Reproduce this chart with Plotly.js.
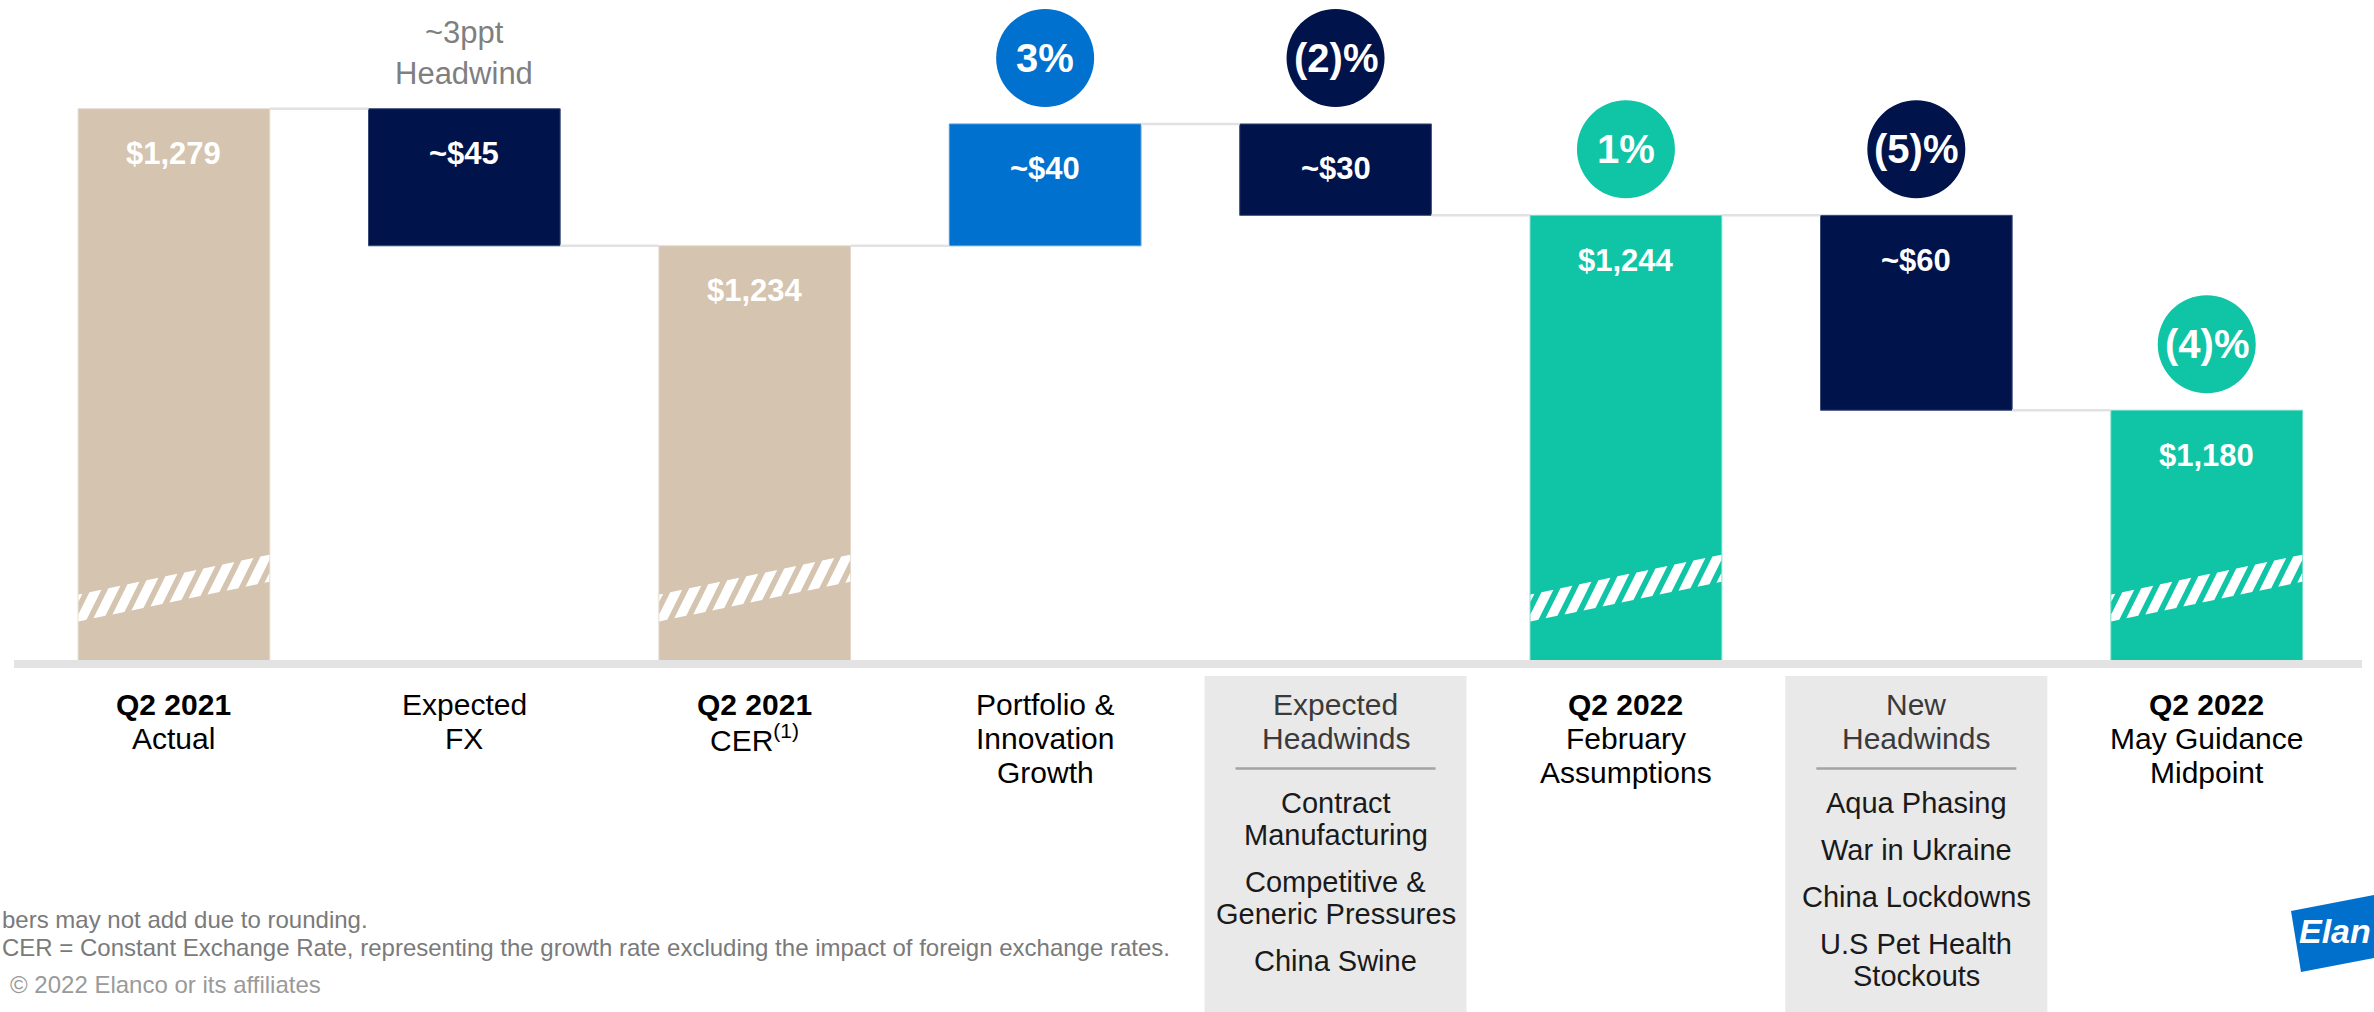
<!DOCTYPE html>
<html>
<head>
<meta charset="utf-8">
<script src="https://cdn.plot.ly/plotly-3.0.1.min.js"></script>
<style>html,body{margin:0;padding:0;background:#fff;overflow:hidden}#chart{width:2374px;height:1012px}</style>
</head>
<body>
<div id="chart"></div>
<script>
// ---------------- DATA ----------------
const categories = ['Q2 2021 Actual', 'Expected FX', 'Q2 2021 CER', 'Portfolio & Innovation Growth',
  'Expected Headwinds', 'Q2 2022 February Assumptions', 'New Headwinds', 'Q2 2022 May Guidance Midpoint'];
const measures = ['total', 'delta', 'total', 'delta', 'delta', 'total', 'delta', 'total'];
const values = [1279, -45, 1234, 40, -30, 1244, -64, 1180];
const valueLabels = ['$1,279', '~$45', '$1,234', '~$40', '~$30', '$1,244', '~$60', '$1,180'];
const pctLabels = ['', '', '', '3%', '(2)%', '1%', '(5)%', '(4)%'];
const labelLines = [
  ['<b>Q2 2021</b>', 'Actual'],
  ['Expected', 'FX'],
  ['<b>Q2 2021</b>', 'CER<sup>(1)</sup>'],
  ['Portfolio &', 'Innovation', 'Growth'],
  ['Expected', 'Headwinds'],
  ['<b>Q2 2022</b>', 'February', 'Assumptions'],
  ['New', 'Headwinds'],
  ['<b>Q2 2022</b>', 'May Guidance', 'Midpoint']
];
const expectedHeadwinds = [['Contract', 'Manufacturing'], ['Competitive &', 'Generic Pressures'], ['China Swine']];
const newHeadwinds = [['Aqua Phasing'], ['War in Ukraine'], ['China Lockdowns'], ['U.S Pet Health', 'Stockouts']];
const fxNote = ['~3ppt', 'Headwind'];
const footnotes = ['bers may not add due to rounding.',
  'CER = Constant Exchange Rate, representing the growth rate excluding the impact of foreign exchange rates.',
  '\u00A9 2022 Elanco or its affiliates'];
const logoText = 'Elan';

// ---------------- STYLE ----------------
const W = 2374, H = 1012, BASE_PX = 660;
const FONT = 'Liberation Sans, Arial, sans-serif';
const TAN = '#D5C4AF', NAVY = '#00134A', BLUE = '#0071CE', TEAL = '#10C4A6';
const barColors = [TAN, NAVY, TAN, BLUE, NAVY, TEAL, NAVY, TEAL];
const edgeColors = ['#E4D9CC', '#3A4A78', '#E4D9CC', '#4E9BE0', '#3A4A78', '#6FDCC8', '#3A4A78', '#6FDCC8'];
const yMin = 1098, yMax = 1314.7;
const BAR_W = 0.66;
const boxCats = {4: expectedHeadwinds, 6: newHeadwinds};

// ---------------- COMPUTE BARS ----------------
let running = 0;
const base = [], height = [], tops = [], levels = [];
values.forEach((v, i) => {
  if (measures[i] === 'total') {
    base.push(0); height.push(v); tops.push(v); running = v;
  } else {
    const s = running, e = running + v;
    base.push(Math.min(s, e)); height.push(Math.abs(v)); tops.push(Math.max(s, e)); running = e;
  }
  levels.push(running);
});

const trace = {
  type: 'bar', x: categories.map((c, i) => i), y: height, base: base, width: BAR_W,
  marker: {color: barColors, line: {color: edgeColors, width: 1}},
  hoverinfo: 'skip', showlegend: false, name: 'Revenue ($M)',
  customdata: categories
};

const shapes = [], annotations = [];
const pyOff = py => -(py - BASE_PX); // page pixel y -> offset relative to baseline (up positive)

// baseline band
shapes.push({type: 'rect', xref: 'paper', x0: 14 / W, x1: 2362 / W, yref: 'paper', ysizemode: 'pixel', yanchor: 0,
  y0: 0, y1: -8, fillcolor: '#E3E3E3', line: {width: 0}, layer: 'above'});

// connectors
for (let i = 0; i < values.length - 1; i++) {
  shapes.push({type: 'line', xref: 'x', yref: 'y', x0: i + BAR_W / 2, x1: i + 1 - BAR_W / 2,
    y0: levels[i], y1: levels[i], line: {color: '#E2E2E2', width: 2.5}});
}

// hatch (axis break) marks on totals
function clip(poly, xmin, xmax) {
  function clipEdge(pts, inside, inter) {
    const out = [];
    for (let k = 0; k < pts.length; k++) {
      const a = pts[k], b = pts[(k + 1) % pts.length];
      const ia = inside(a), ib = inside(b);
      if (ia) out.push(a);
      if (ia !== ib) out.push(inter(a, b));
    }
    return out;
  }
  const ix = xv => (a, b) => { const t = (xv - a[0]) / (b[0] - a[0]); return [xv, a[1] + t * (b[1] - a[1])]; };
  let p = clipEdge(poly, q => q[0] >= xmin, ix(xmin));
  if (p.length) p = clipEdge(p, q => q[0] <= xmax, ix(xmax));
  return p;
}
const halfPx = 95.5, lowY0 = 38.5, slope = 40 / 192, bandH = 27, slant = 15, stripeW = 12, period = 19;
const lowEdge = x => lowY0 + (x + halfPx) * slope;
measures.forEach((m, i) => {
  if (m !== 'total') return;
  for (let xs = -halfPx - slant - stripeW + 4; xs < halfPx; xs += period) {
    const poly = [[xs, lowEdge(xs)], [xs + stripeW, lowEdge(xs + stripeW)],
      [xs + stripeW + slant, lowEdge(xs + stripeW + slant) + bandH], [xs + slant, lowEdge(xs + slant) + bandH]];
    const c = clip(poly, -halfPx, halfPx);
    if (c.length < 3) continue;
    const path = 'M' + c.map(q => q[0].toFixed(2) + ',' + q[1].toFixed(2)).join('L') + 'Z';
    shapes.push({type: 'path', xref: 'x', yref: 'y', xsizemode: 'pixel', ysizemode: 'pixel',
      xanchor: i, yanchor: yMin, path: path, fillcolor: '#FFFFFF', line: {width: 0}});
  }
});

// percent circles + labels
pctLabels.forEach((t, i) => {
  if (!t) return;
  shapes.push({type: 'circle', xref: 'x', yref: 'y', xsizemode: 'pixel', ysizemode: 'pixel',
    xanchor: i, yanchor: tops[i], x0: -49, x1: 49, y0: 17, y1: 115, fillcolor: barColors[i], line: {width: 0}});
  annotations.push({x: i, y: tops[i], xref: 'x', yref: 'y', yshift: 66, yanchor: 'middle', showarrow: false,
    text: t, font: {family: FONT, size: 40, color: '#FFFFFF', weight: 'bold'}});
});

// value labels inside bars
valueLabels.forEach((t, i) => {
  annotations.push({x: i, y: tops[i], xref: 'x', yref: 'y', yshift: -45, yanchor: 'middle', showarrow: false,
    text: t, font: {family: FONT, size: 31, color: '#FFFFFF', weight: 'bold'}});
});

// category labels
labelLines.forEach((lines, i) => {
  const inBox = boxCats[i] !== undefined;
  lines.forEach((ln, k) => {
    annotations.push({x: i, xref: 'x', y: 0, yref: 'paper', yshift: pyOff(704 + k * 34), yanchor: 'middle',
      showarrow: false, text: ln, font: {family: FONT, size: 30, color: inBox ? '#3A3A3A' : '#000000'}});
  });
});

// headwind boxes
Object.keys(boxCats).forEach(key => {
  const i = +key;
  shapes.push({type: 'rect', xref: 'x', xsizemode: 'pixel', xanchor: i, x0: -131, x1: 131,
    yref: 'paper', ysizemode: 'pixel', yanchor: 0, y0: pyOff(676), y1: pyOff(1030),
    fillcolor: '#E9E9E9', line: {width: 0}, layer: 'below'});
  shapes.push({type: 'line', xref: 'x', xsizemode: 'pixel', xanchor: i, x0: -100, x1: 100,
    yref: 'paper', ysizemode: 'pixel', yanchor: 0, y0: pyOff(768.5), y1: pyOff(768.5),
    line: {color: '#A3A3A3', width: 2.5}});
  let y = 803;
  boxCats[key].forEach(item => {
    item.forEach(ln => {
      annotations.push({x: i, xref: 'x', y: 0, yref: 'paper', yshift: pyOff(y), yanchor: 'middle',
        showarrow: false, text: ln, font: {family: FONT, size: 29, color: '#1A1A1A'}});
      y += 32;
    });
    y += 15;
  });
});

// FX note above bar 2
fxNote.forEach((ln, k) => {
  annotations.push({x: 1, xref: 'x', y: 1, yref: 'paper', yshift: -(32 + k * 41), yanchor: 'middle',
    showarrow: false, text: ln, font: {family: FONT, size: 31, color: '#7F7F7F'}});
});

// footnotes
const footY = [919, 947, 984.5], footX = [0, 0, 8], footC = ['#7A7A7A', '#7A7A7A', '#9A9A9A'];
footnotes.forEach((t, k) => {
  annotations.push({x: footX[k] / W, xref: 'paper', xanchor: 'left', y: 0, yref: 'paper', yshift: pyOff(footY[k]),
    yanchor: 'middle', showarrow: false, text: t, font: {family: FONT, size: 24, color: footC[k]}});
});

// logo
const logoPts = [[2291, 911], [2390, 892], [2390, 955], [2301, 972]];
shapes.push({type: 'path', xref: 'paper', xsizemode: 'pixel', xanchor: 0, yref: 'paper', ysizemode: 'pixel', yanchor: 0,
  path: 'M' + logoPts.map(p => p[0] + ',' + pyOff(p[1])).join('L') + 'Z', fillcolor: '#0070CC', line: {width: 0}});
annotations.push({x: 2297 / W, xref: 'paper', xanchor: 'left', y: 0, yref: 'paper', yshift: pyOff(931), yanchor: 'middle',
  showarrow: false, text: logoText, font: {family: FONT, size: 34, color: '#FFFFFF', weight: 'bold', style: 'italic'}});

const layout = {
  width: W, height: H, margin: {l: 0, r: 0, t: 0, b: H - BASE_PX, pad: 0},
  paper_bgcolor: '#FFFFFF', plot_bgcolor: '#FFFFFF',
  xaxis: {range: [-0.599, 7.576], visible: false, fixedrange: true},
  yaxis: {range: [yMin, yMax], visible: false, fixedrange: true},
  bargap: 0, showlegend: false, shapes: shapes, annotations: annotations,
  font: {family: FONT}
};
Plotly.newPlot('chart', [trace], layout, {displayModeBar: false, staticPlot: true});
</script>
</body>
</html>
